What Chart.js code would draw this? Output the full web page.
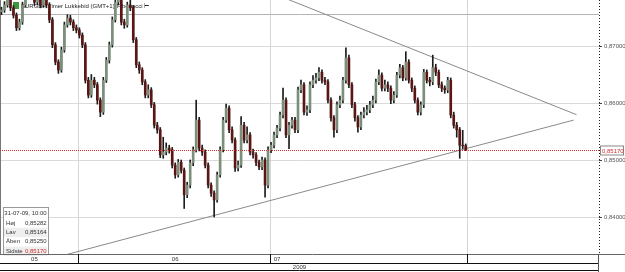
<!DOCTYPE html>
<html>
<head>
<meta charset="utf-8">
<script src="https://cdn.jsdelivr.net/npm/chart.js@4/dist/chart.umd.min.js"></script>
<style>
  html, body { margin: 0; padding: 0; background: #fff; }
  canvas { display: block; }
</style>
</head>
<body>
<canvas id="chart" width="625" height="272"></canvas>
<script>
// EURGBP candles, oldest first; open = previous close
const firstOpen = 0.8760;
const closes = [
  0.8763, 0.8772, 0.8789, 0.8767, 0.8754, 0.8732, 0.8742, 0.8772, 0.8789, 0.8795,
  0.8789, 0.8777, 0.8786, 0.8772, 0.8784, 0.8772, 0.8746, 0.8702, 0.8672, 0.8658,
  0.8693, 0.8737, 0.8749, 0.8742, 0.8732, 0.8728, 0.8719, 0.8702, 0.8640, 0.8614,
  0.8640, 0.8632, 0.8605, 0.8584, 0.8640, 0.8675, 0.8702, 0.8746, 0.8777, 0.8784,
  0.8742, 0.8737, 0.8772, 0.8767, 0.8711, 0.8667, 0.8658, 0.8637, 0.8614, 0.8623,
  0.8597, 0.8561, 0.8553, 0.8509, 0.8514, 0.8521, 0.8518, 0.8491, 0.8474, 0.8496,
  0.8482, 0.8439, 0.8456, 0.8495, 0.8518, 0.8570, 0.8521, 0.8514, 0.8491, 0.8456,
  0.8442, 0.8430, 0.8474, 0.8518, 0.8570, 0.8591, 0.8553, 0.8535, 0.8486, 0.8491,
  0.8561, 0.8535, 0.8544, 0.8514, 0.8509, 0.8496, 0.8488, 0.8500, 0.8456, 0.8518,
  0.8526, 0.8544, 0.8556, 0.8579, 0.8605, 0.8544, 0.8561, 0.8570, 0.8553, 0.8623,
  0.8632, 0.8584, 0.8588, 0.8632, 0.8640, 0.8644, 0.8654, 0.8640, 0.8637, 0.8605,
  0.8574, 0.8553, 0.8597, 0.8605, 0.8640, 0.8679, 0.8632, 0.8597, 0.8574, 0.8558,
  0.8579, 0.8584, 0.8588, 0.8597, 0.8605, 0.8637, 0.8649, 0.8626, 0.8632, 0.8626,
  0.8605, 0.8614, 0.8649, 0.8662, 0.8644, 0.8672, 0.8640, 0.8626, 0.8605, 0.8584,
  0.8597, 0.8654, 0.8640, 0.8637, 0.8662, 0.8654, 0.8632, 0.8626, 0.8623, 0.8640,
  0.8579, 0.8561, 0.8553, 0.8526, 0.8525, 0.85170
];
const highs = [
  0.8768, 0.8778, 0.8795, 0.8793, 0.8771, 0.8758, 0.8747, 0.8777, 0.8794, 0.8801,
  0.8800, 0.8793, 0.8791, 0.8790, 0.8789, 0.8788, 0.8776, 0.8750, 0.8706, 0.8676,
  0.8698, 0.8742, 0.8755, 0.8754, 0.8746, 0.8737, 0.8732, 0.8723, 0.8706, 0.8645,
  0.8650, 0.8645, 0.8636, 0.8609, 0.8645, 0.8680, 0.8707, 0.8751, 0.8783, 0.8792,
  0.8788, 0.8747, 0.8777, 0.8782, 0.8771, 0.8715, 0.8672, 0.8662, 0.8641, 0.8632,
  0.8627, 0.8601, 0.8566, 0.8557, 0.8540, 0.8530, 0.8526, 0.8522, 0.8495, 0.8501,
  0.8500, 0.8486, 0.8461, 0.8500, 0.8523, 0.8605, 0.8575, 0.8526, 0.8518, 0.8495,
  0.8460, 0.8446, 0.8479, 0.8523, 0.8575, 0.8598, 0.8595, 0.8558, 0.8539, 0.8498,
  0.8576, 0.8566, 0.8558, 0.8548, 0.8519, 0.8513, 0.8500, 0.8505, 0.8504, 0.8523,
  0.8531, 0.8549, 0.8561, 0.8584, 0.8626, 0.8609, 0.8566, 0.8575, 0.8575, 0.8628,
  0.8640, 0.8636, 0.8595, 0.8637, 0.8648, 0.8652, 0.8662, 0.8658, 0.8645, 0.8641,
  0.8609, 0.8578, 0.8602, 0.8612, 0.8645, 0.8697, 0.8684, 0.8636, 0.8601, 0.8578,
  0.8584, 0.8592, 0.8596, 0.8603, 0.8612, 0.8642, 0.8658, 0.8653, 0.8640, 0.8637,
  0.8630, 0.8620, 0.8654, 0.8668, 0.8666, 0.8690, 0.8676, 0.8644, 0.8630, 0.8609,
  0.8602, 0.8659, 0.8658, 0.8645, 0.8684, 0.8668, 0.8658, 0.8637, 0.8630, 0.8645,
  0.8644, 0.8584, 0.8566, 0.8557, 0.8552, 0.85282
];
const lows = [
  0.8755, 0.8759, 0.8768, 0.8762, 0.8749, 0.8727, 0.8728, 0.8738, 0.8768, 0.8784,
  0.8783, 0.8771, 0.8772, 0.8767, 0.8768, 0.8767, 0.8741, 0.8697, 0.8667, 0.8652,
  0.8654, 0.8689, 0.8733, 0.8737, 0.8727, 0.8723, 0.8714, 0.8697, 0.8635, 0.8609,
  0.8610, 0.8627, 0.8598, 0.8576, 0.8580, 0.8636, 0.8670, 0.8698, 0.8742, 0.8772,
  0.8737, 0.8731, 0.8733, 0.8762, 0.8706, 0.8662, 0.8652, 0.8632, 0.8609, 0.8609,
  0.8592, 0.8556, 0.8547, 0.8504, 0.8503, 0.8509, 0.8512, 0.8486, 0.8468, 0.8470,
  0.8477, 0.8415, 0.8434, 0.8451, 0.8490, 0.8514, 0.8516, 0.8508, 0.8486, 0.8451,
  0.8436, 0.8400, 0.8426, 0.8470, 0.8514, 0.8566, 0.8548, 0.8530, 0.8480, 0.8481,
  0.8487, 0.8530, 0.8530, 0.8509, 0.8503, 0.8490, 0.8483, 0.8483, 0.8435, 0.8451,
  0.8513, 0.8521, 0.8539, 0.8551, 0.8574, 0.8539, 0.8520, 0.8556, 0.8548, 0.8548,
  0.8618, 0.8579, 0.8578, 0.8583, 0.8627, 0.8635, 0.8639, 0.8635, 0.8632, 0.8600,
  0.8568, 0.8540, 0.8548, 0.8592, 0.8600, 0.8635, 0.8627, 0.8592, 0.8568, 0.8549,
  0.8553, 0.8574, 0.8579, 0.8583, 0.8592, 0.8600, 0.8632, 0.8621, 0.8621, 0.8620,
  0.8599, 0.8600, 0.8610, 0.8644, 0.8639, 0.8640, 0.8635, 0.8620, 0.8600, 0.8579,
  0.8579, 0.8592, 0.8635, 0.8630, 0.8632, 0.8648, 0.8627, 0.8620, 0.8617, 0.8618,
  0.8574, 0.8556, 0.8540, 0.8503, 0.8520, 0.85164
];
const opens = closes.map((c, i) => i === 0 ? firstOpen : closes[i - 1]);
const lastTime = "31-07-09, 10:00";

// time axis: 200 slots, months marked by slot index
const slotCount = 200;
const monthLabels = ["05", "06", "07"];
const monthLabelSlots = [11, 58, 92];
const monthStartSlots = [26, 90, 156];
const yearLabel = "2009";

// trend lines drawn on the chart: [slot, price]
const upperTrend = [[90, 0.87937], [192, 0.85795]];
const lowerTrend = [[21, 0.83331], [191, 0.85700]];

const yMin = 0.83351, yMax = 0.87807;
const fmt = v => v.toFixed(5).replace(".", ",");
const FONT = "Liberation Sans";

const slots = [];
for (let i = 0; i < slotCount; i++) slots.push(String(i));

const upColor = "#7b8f7b", downColor = "#5a1515";
const lastColor = "#d23030";

const decorations = {
  id: "decorations",
  beforeDatasetsDraw(chart) {
    const { ctx, chartArea: a, scales: { x, y } } = chart;
    ctx.save();
    // vertical month grid lines
    ctx.strokeStyle = "#d6d6d6";
    ctx.lineWidth = 1;
    const half = (x.getPixelForValue(1) - x.getPixelForValue(0)) / 2;
    monthStartSlots.forEach(s => {
      const px = Math.round(x.getPixelForValue(s) - half) + 0.5;
      ctx.beginPath(); ctx.moveTo(px, a.top); ctx.lineTo(px, a.bottom); ctx.stroke();
    });
    // upper level line and left border
    ctx.strokeStyle = "#b4b4b4";
    ctx.beginPath(); ctx.moveTo(a.left, a.top + 14.5); ctx.lineTo(a.right, a.top + 14.5); ctx.stroke();
    ctx.strokeStyle = "#777";
    ctx.beginPath(); ctx.moveTo(0.5, 0); ctx.lineTo(0.5, a.bottom); ctx.stroke();
    // dotted price axis line
    ctx.strokeStyle = "#222";
    ctx.setLineDash([1, 2]);
    ctx.beginPath(); ctx.moveTo(a.right + 0.5, 0); ctx.lineTo(a.right + 0.5, a.bottom); ctx.stroke();
    ctx.setLineDash([]);
    // title
    ctx.fillStyle = "#3a9a3a";
    ctx.fillRect(13, 2, 6, 7);
    ctx.fillStyle = "#222";
    ctx.font = "6px '" + FONT + "'";
    ctx.textBaseline = "middle";
    ctx.textAlign = "left";
    ctx.fillText("EURGBP Timer Lukkebid (GMT+1)", 21, 6);
    ctx.fillText("Fibonacci \u22A2", 117, 6);
    ctx.restore();
  },
  afterDatasetsDraw(chart) {
    const { ctx, chartArea: a, scales: { x, y } } = chart;
    const n = closes.length - 1;
    ctx.save();
    // last price dotted line
    const py = Math.round(y.getPixelForValue(closes[n])) + 0.5;
    ctx.strokeStyle = lastColor;
    ctx.lineWidth = 1;
    ctx.setLineDash([1, 1]);
    ctx.beginPath(); ctx.moveTo(a.left, py); ctx.lineTo(a.right, py); ctx.stroke();
    ctx.setLineDash([]);
    ctx.fillStyle = "#fff";
    ctx.fillRect(a.right + 1, py - 5, 24, 10);
    ctx.strokeStyle = "#888";
    ctx.strokeRect(a.right + 1.5, py - 4.5, 23, 9);
    ctx.fillStyle = lastColor;
    ctx.font = "6px '" + FONT + "'";
    ctx.textBaseline = "middle";
    ctx.fillText(fmt(closes[n]), a.right + 3, py + 0.5);

    // info box
    const bx = 3, by = 207, bw = 45, rh = 9.4;
    ctx.fillStyle = "#fff";
    ctx.fillRect(bx, by, bw, a.bottom - by);
    ctx.fillStyle = "#eeeeee";
    ctx.fillRect(bx + 1, by + 2 + rh * 2, bw - 2, rh);
    ctx.fillRect(bx + 1, by + 2 + rh * 4, bw - 2, rh);
    ctx.strokeStyle = "#999";
    ctx.strokeRect(bx + 0.5, by + 0.5, bw, a.bottom - by);
    ctx.fillStyle = "#333";
    ctx.textAlign = "center";
    ctx.fillText(lastTime, bx + bw / 2, by + 6);
    const rows = [["H\u00f8j", highs[n]], ["Lav", lows[n]], ["\u00c5ben", opens[n]], ["Sidste", closes[n]]];
    rows.forEach((r, i) => {
      const ry = by + 6.5 + rh * (i + 1);
      ctx.textAlign = "left";
      ctx.fillStyle = "#333";
      ctx.fillText(r[0], bx + 3, ry);
      ctx.fillStyle = i === 3 ? lastColor : "#333";
      ctx.fillText(fmt(r[1]), bx + 22, ry);
    });

    // bottom time bands
    ctx.strokeStyle = "#666";
    ctx.beginPath(); ctx.moveTo(0, a.bottom + 0.5); ctx.lineTo(625, a.bottom + 0.5); ctx.stroke();
    ctx.strokeStyle = "#111";
    ctx.beginPath();
    ctx.moveTo(0, a.bottom + 9.5); ctx.lineTo(a.right, a.bottom + 9.5);
    ctx.moveTo(0, 270.5); ctx.lineTo(a.right, 270.5);
    ctx.stroke();
    ctx.strokeStyle = "#555";
    ctx.beginPath(); ctx.moveTo(a.right - 0.5, a.bottom); ctx.lineTo(a.right - 0.5, 272); ctx.stroke();
    const half = (x.getPixelForValue(1) - x.getPixelForValue(0)) / 2;
    ctx.strokeStyle = "#111";
    monthStartSlots.forEach(s => {
      const px = Math.round(x.getPixelForValue(s) - half) + 0.5;
      ctx.beginPath(); ctx.moveTo(px, a.bottom); ctx.lineTo(px, a.bottom + 9); ctx.stroke();
    });
    ctx.restore();
  }
};

new Chart(document.getElementById("chart"), {
  type: "bar",
  data: {
    labels: slots,
    datasets: [
      {
        label: "body",
        data: closes.map((c, i) => [opens[i], c]),
        backgroundColor: closes.map((c, i) => c >= opens[i] ? upColor : downColor),
        barThickness: 2,
        grouped: false,
        clip: 0
      },
      {
        label: "wick",
        data: highs.map((h, i) => [lows[i], h]),
        backgroundColor: "#1c1c1c",
        barThickness: 1,
        grouped: false,
        clip: 0
      },
      {
        type: "line",
        label: "upper",
        data: upperTrend.map(p => ({ x: String(p[0]), y: p[1] })),
        borderColor: "#8a8a8a",
        borderWidth: 1,
        pointRadius: 0,
        clip: 0
      },
      {
        type: "line",
        label: "lower",
        data: lowerTrend.map(p => ({ x: String(p[0]), y: p[1] })),
        borderColor: "#8a8a8a",
        borderWidth: 1,
        pointRadius: 0,
        clip: 0
      }
    ]
  },
  options: {
    responsive: false,
    animation: false,
    layout: { padding: 0 },
    plugins: { legend: { display: false }, tooltip: { enabled: false } },
    scales: {
      x: {
        offset: true,
        grid: { display: false, drawTicks: false },
        border: { display: false },
        afterBuildTicks: scale => { scale.ticks = monthLabelSlots.map(v => ({ value: v })); },
        ticks: {
          autoSkip: false,
          maxRotation: 0,
          padding: 2,
          color: "#333",
          font: { family: FONT, size: 6 },
          callback: (v, i) => monthLabels[i]
        },
        title: {
          display: true,
          text: yearLabel,
          color: "#333",
          font: { family: FONT, size: 6, lineHeight: 1 },
          padding: { top: 0, bottom: 2 }
        },
        afterFit: scale => { scale.height = 18; scale.paddingLeft = 0; scale.paddingRight = 0; }
      },
      y: {
        position: "right",
        min: yMin,
        max: yMax,
        afterBuildTicks: scale => { scale.ticks = [0.84, 0.85, 0.86, 0.87].map(v => ({ value: v })); },
        grid: { color: "#dadada", tickColor: "#444", tickLength: 3 },
        border: { display: false },
        ticks: {
          padding: 2,
          color: "#555",
          font: { family: FONT, size: 6 },
          callback: v => fmt(v)
        },
        afterFit: scale => { scale.width = 26; scale.paddingTop = 0; scale.paddingBottom = 0; }
      }
    }
  },
  plugins: [decorations]
});
</script>
</body>
</html>
